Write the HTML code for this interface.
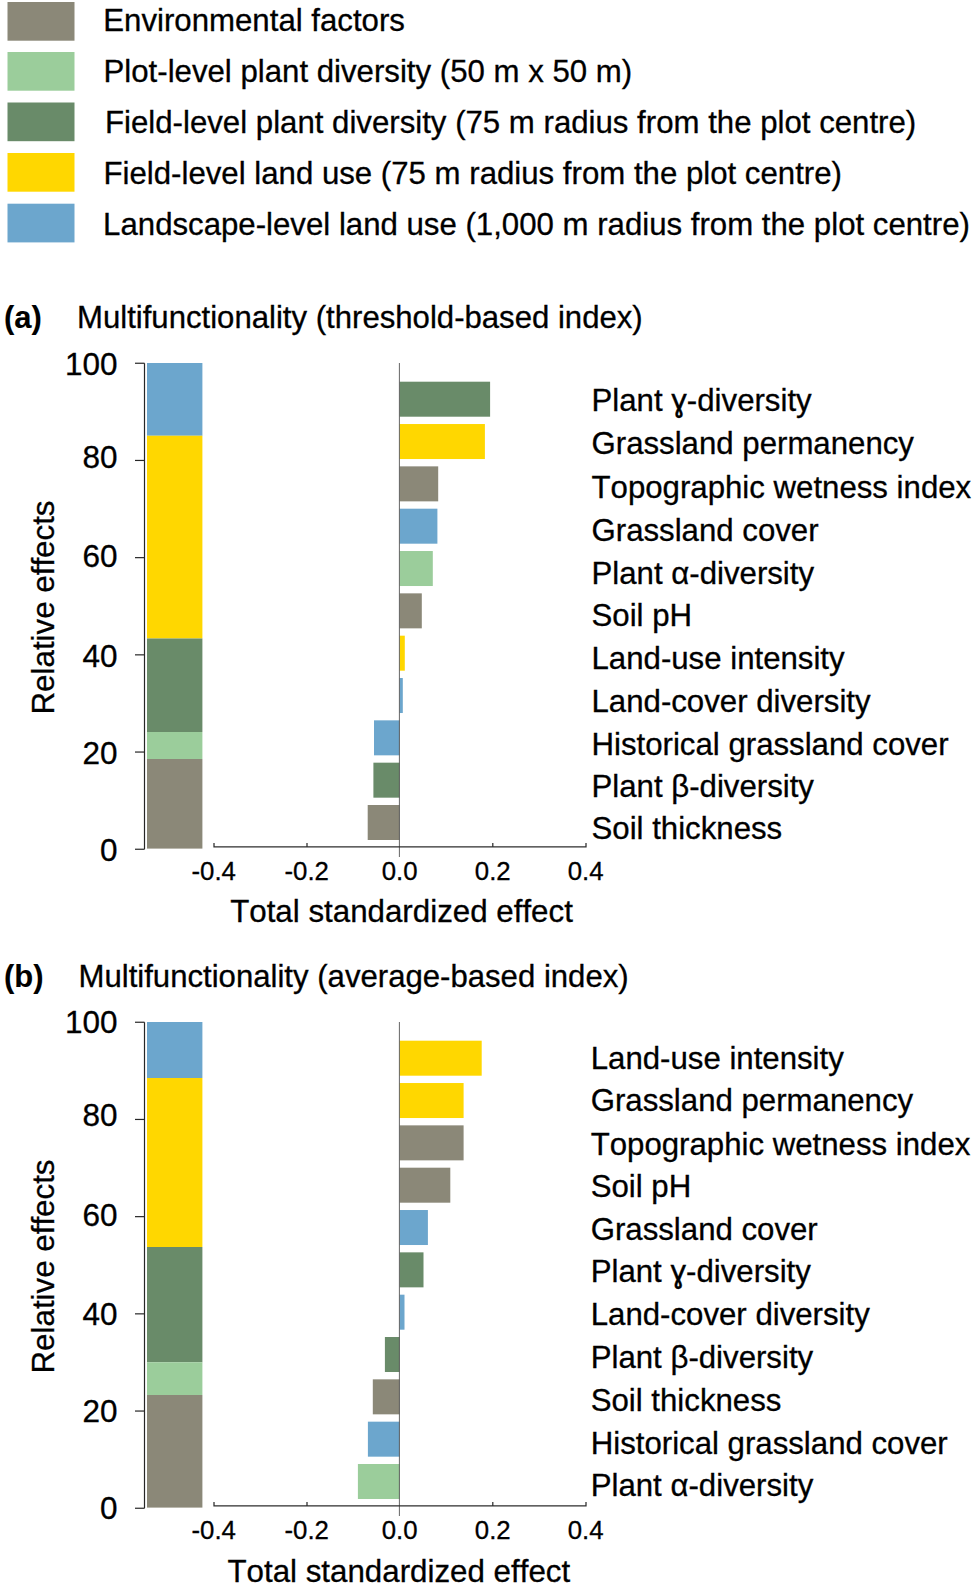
<!DOCTYPE html>
<html lang="en">
<head>
<meta charset="utf-8">
<title>Figure</title>
<style>
html,body{margin:0;padding:0;background:#fff;}
body{width:972px;height:1584px;overflow:hidden;}
svg{display:block;}
text{font-family:"Liberation Sans",sans-serif;fill:#000;font-kerning:none;stroke:#000;stroke-width:0.3px;}
.ax{stroke:#262626;stroke-width:1.2;fill:none;}
.xa{stroke:#2e2e2e;stroke-width:1.25;fill:none;}
.zl{stroke:#555;stroke-width:0.9;fill:none;}
</style>
</head>
<body>
<svg width="972" height="1584" viewBox="0 0 972 1584">
<rect width="972" height="1584" fill="#fff"/>
<rect x="7.5" y="2" width="67" height="38.7" fill="#8B8878"/>
<text x="103.3" y="31.0" font-size="31.2">Environmental factors</text>
<rect x="7.5" y="52" width="67" height="38.7" fill="#9BCD9B"/>
<text x="103.5" y="82" font-size="31.2">Plot-level plant diversity (50 m x 50 m)</text>
<rect x="7.5" y="102.5" width="67" height="38.7" fill="#698B69"/>
<text x="105" y="133" font-size="31.2">Field-level plant diversity (75 m radius from the plot centre)</text>
<rect x="7.5" y="153" width="67" height="38.7" fill="#FFD700"/>
<text x="103.5" y="183.5" font-size="31.2">Field-level land use (75 m radius from the plot centre)</text>
<rect x="7.5" y="203.7" width="67" height="38.7" fill="#6CA6CD"/>
<text x="103.1" y="234.6" font-size="31.2">Landscape-level land use (1,000 m radius from the plot centre)</text>
<text x="4" y="328" font-size="31" font-weight="bold" style="stroke-width:0.1px">(a)</text>
<text x="77" y="328" font-size="31.13">Multifunctionality (threshold-based index)</text>
<rect x="147.0" y="363" width="55.4" height="72.75" fill="#6CA6CD"/>
<rect x="147.0" y="435.75" width="55.4" height="202.75" fill="#FFD700"/>
<rect x="147.0" y="638.5" width="55.4" height="93.5" fill="#698B69"/>
<rect x="147.0" y="732" width="55.4" height="27" fill="#9BCD9B"/>
<rect x="147.0" y="759" width="55.4" height="89.60000000000002" fill="#8B8878"/>
<path class="ax" d="M144.5 363.25V849.25"/>
<path class="ax" d="M135 849.25H144.5"/>
<path class="ax" d="M135 752.05H144.5"/>
<path class="ax" d="M135 654.85H144.5"/>
<path class="ax" d="M135 557.65H144.5"/>
<path class="ax" d="M135 460.45H144.5"/>
<path class="ax" d="M135 363.25H144.5"/>
<text x="117.5" y="374.50000000000006" font-size="31.5" text-anchor="end">100</text>
<text x="117.5" y="467.90000000000003" font-size="31.5" text-anchor="end">80</text>
<text x="117.5" y="567.15" font-size="31.5" text-anchor="end">60</text>
<text x="117.5" y="666.5" font-size="31.5" text-anchor="end">40</text>
<text x="117.5" y="763.9" font-size="31.5" text-anchor="end">20</text>
<text x="117.5" y="860.5" font-size="31.5" text-anchor="end">0</text>
<text transform="translate(54 607.5) rotate(-90)" font-size="31.3" text-anchor="middle">Relative effects</text>
<rect x="399.6" y="381.70" width="90.5" height="35" fill="#698B69"/>
<rect x="399.6" y="424.03" width="85.3" height="35" fill="#FFD700"/>
<rect x="399.6" y="466.36" width="38.6" height="35" fill="#8B8878"/>
<rect x="399.6" y="508.69" width="37.8" height="35" fill="#6CA6CD"/>
<rect x="399.6" y="551.02" width="33.2" height="35" fill="#9BCD9B"/>
<rect x="399.6" y="593.35" width="22.2" height="35" fill="#8B8878"/>
<rect x="399.6" y="635.68" width="5.2" height="35" fill="#FFD700"/>
<rect x="399.6" y="678.01" width="3.2" height="35" fill="#6CA6CD"/>
<rect x="374" y="720.34" width="25.6" height="35" fill="#6CA6CD"/>
<rect x="373.4" y="762.67" width="26.2" height="35" fill="#698B69"/>
<rect x="367.7" y="805.00" width="31.9" height="35" fill="#8B8878"/>
<path class="zl" d="M399.4 363V857"/>
<path class="xa" d="M214 842.9V846.9H586V842.9M307 842.9V846.9M492.8 842.9V846.9"/>
<text x="213.7" y="879.6" font-size="25.8" text-anchor="middle">-0.4</text>
<text x="306.7" y="879.6" font-size="25.8" text-anchor="middle">-0.2</text>
<text x="399.6" y="879.6" font-size="25.8" text-anchor="middle">0.0</text>
<text x="492.8" y="879.6" font-size="25.8" text-anchor="middle">0.2</text>
<text x="585.6" y="879.6" font-size="25.8" text-anchor="middle">0.4</text>
<text x="401.5" y="922.3" font-size="31.3" text-anchor="middle">Total standardized effect</text>
<text x="591.5" y="410.5" font-size="31.2">Plant ɣ-diversity</text>
<text x="591.5" y="454.4" font-size="31.2">Grassland permanency</text>
<text x="591.5" y="497.8" font-size="31.2">Topographic wetness index</text>
<text x="591.5" y="541.0" font-size="31.2">Grassland cover</text>
<text x="591.5" y="583.8" font-size="31.2">Plant α-diversity</text>
<text x="591.5" y="626.3" font-size="31.2">Soil pH</text>
<text x="591.5" y="668.7" font-size="31.2">Land-use intensity</text>
<text x="591.5" y="711.7" font-size="31.2">Land-cover diversity</text>
<text x="591.5" y="754.5" font-size="31.2">Historical grassland cover</text>
<text x="591.5" y="797.0" font-size="31.2">Plant β-diversity</text>
<text x="591.5" y="839.3" font-size="31.2">Soil thickness</text>
<text x="4" y="987" font-size="31" font-weight="bold" style="stroke-width:0.1px">(b)</text>
<text x="78.5" y="987" font-size="31.13">Multifunctionality (average-based index)</text>
<rect x="147.0" y="1022" width="55.4" height="56" fill="#6CA6CD"/>
<rect x="147.0" y="1078" width="55.4" height="169" fill="#FFD700"/>
<rect x="147.0" y="1247" width="55.4" height="115.25" fill="#698B69"/>
<rect x="147.0" y="1362.25" width="55.4" height="32.75" fill="#9BCD9B"/>
<rect x="147.0" y="1395" width="55.4" height="112.60000000000002" fill="#8B8878"/>
<path class="ax" d="M144.5 1022.25V1508.25"/>
<path class="ax" d="M135 1508.25H144.5"/>
<path class="ax" d="M135 1411.05H144.5"/>
<path class="ax" d="M135 1313.85H144.5"/>
<path class="ax" d="M135 1216.65H144.5"/>
<path class="ax" d="M135 1119.45H144.5"/>
<path class="ax" d="M135 1022.25H144.5"/>
<text x="117.5" y="1032.9" font-size="31.5" text-anchor="end">100</text>
<text x="117.5" y="1126.3" font-size="31.5" text-anchor="end">80</text>
<text x="117.5" y="1225.55" font-size="31.5" text-anchor="end">60</text>
<text x="117.5" y="1324.8999999999999" font-size="31.5" text-anchor="end">40</text>
<text x="117.5" y="1422.3" font-size="31.5" text-anchor="end">20</text>
<text x="117.5" y="1518.8999999999999" font-size="31.5" text-anchor="end">0</text>
<text transform="translate(54 1266.5) rotate(-90)" font-size="31.3" text-anchor="middle">Relative effects</text>
<rect x="399.6" y="1040.70" width="82.1" height="35" fill="#FFD700"/>
<rect x="399.6" y="1083.03" width="64.0" height="35" fill="#FFD700"/>
<rect x="399.6" y="1125.36" width="64.0" height="35" fill="#8B8878"/>
<rect x="399.6" y="1167.69" width="50.7" height="35" fill="#8B8878"/>
<rect x="399.6" y="1210.02" width="28.3" height="35" fill="#6CA6CD"/>
<rect x="399.6" y="1252.35" width="23.9" height="35" fill="#698B69"/>
<rect x="399.6" y="1294.68" width="4.9" height="35" fill="#6CA6CD"/>
<rect x="384.9" y="1337.01" width="14.7" height="35" fill="#698B69"/>
<rect x="372.8" y="1379.34" width="26.8" height="35" fill="#8B8878"/>
<rect x="367.9" y="1421.67" width="31.7" height="35" fill="#6CA6CD"/>
<rect x="357.9" y="1464.00" width="41.7" height="35" fill="#9BCD9B"/>
<path class="zl" d="M399.4 1022V1516"/>
<path class="xa" d="M214 1501.9V1505.9H586V1501.9M307 1501.9V1505.9M492.8 1501.9V1505.9"/>
<text x="213.7" y="1538.6" font-size="25.8" text-anchor="middle">-0.4</text>
<text x="306.7" y="1538.6" font-size="25.8" text-anchor="middle">-0.2</text>
<text x="399.6" y="1538.6" font-size="25.8" text-anchor="middle">0.0</text>
<text x="492.8" y="1538.6" font-size="25.8" text-anchor="middle">0.2</text>
<text x="585.6" y="1538.6" font-size="25.8" text-anchor="middle">0.4</text>
<text x="398.8" y="1582.1" font-size="31.3" text-anchor="middle">Total standardized effect</text>
<text x="590.7" y="1069.1" font-size="31.2">Land-use intensity</text>
<text x="590.7" y="1111.3" font-size="31.2">Grassland permanency</text>
<text x="590.7" y="1154.5" font-size="31.2">Topographic wetness index</text>
<text x="590.7" y="1197.1" font-size="31.2">Soil pH</text>
<text x="590.7" y="1239.5" font-size="31.2">Grassland cover</text>
<text x="590.7" y="1282.3" font-size="31.2">Plant ɣ-diversity</text>
<text x="590.7" y="1325.4" font-size="31.2">Land-cover diversity</text>
<text x="590.7" y="1368.1" font-size="31.2">Plant β-diversity</text>
<text x="590.7" y="1410.5" font-size="31.2">Soil thickness</text>
<text x="590.7" y="1453.6" font-size="31.2">Historical grassland cover</text>
<text x="590.7" y="1496.0" font-size="31.2">Plant α-diversity</text>
</svg>
</body>
</html>
